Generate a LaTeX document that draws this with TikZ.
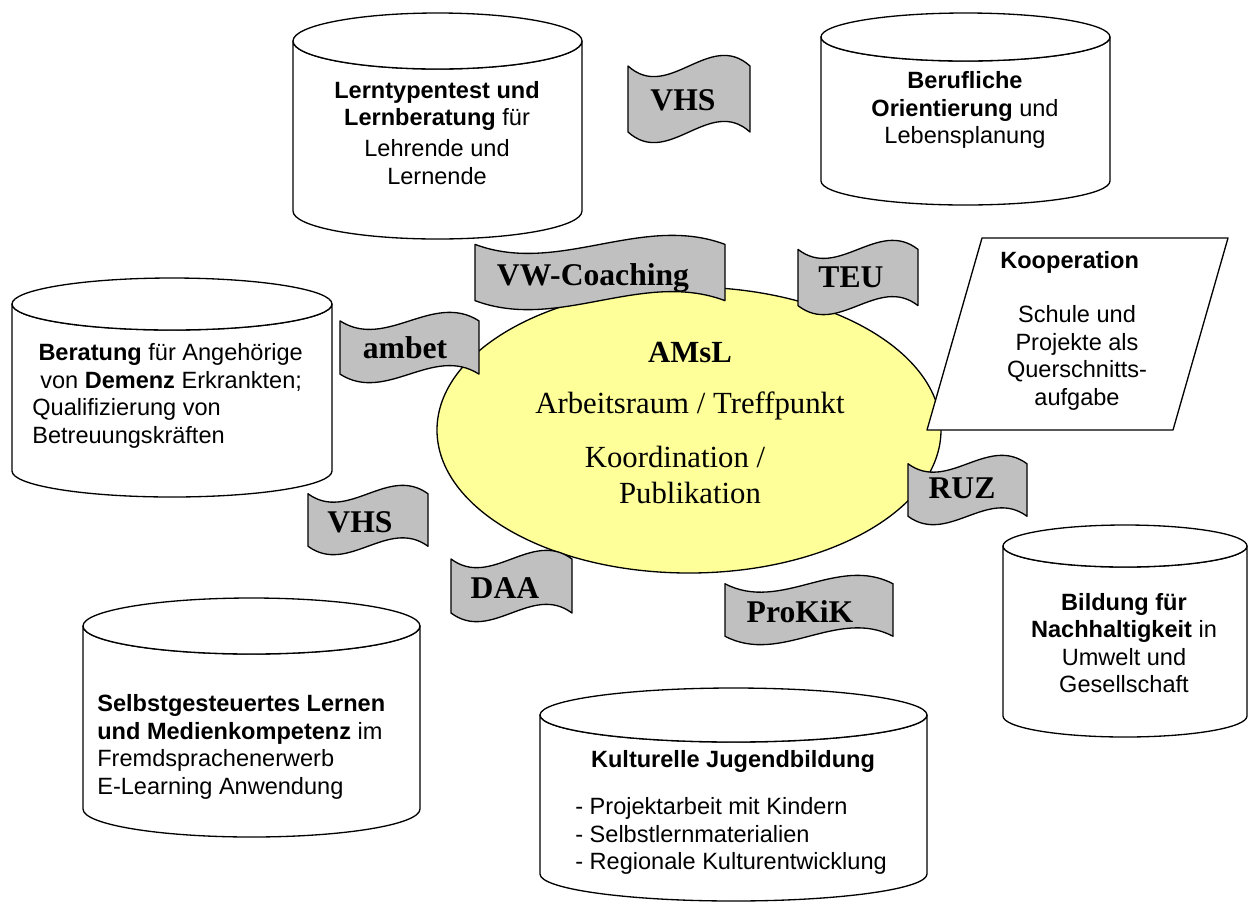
\documentclass[tikz,border=0pt]{standalone}
\usepackage{fontspec}
\setmainfont{Liberation Serif}
\setsansfont{Liberation Sans}
\usepackage{xcolor}
\usepackage{tikz}

\definecolor{flaggrey}{RGB}{192,192,192}
\definecolor{hubyellow}{RGB}{255,255,153}

% can: x left, x right, y of rim, y of base, half height of the ellipses
\newcommand{\cancyl}[5]{%
  \draw[canline] (#1,#3) -- (#1,#4)
    arc[start angle=180, end angle=0, x radius={(#2-#1)/2}, y radius=#5]
    -- (#2,#3)
    arc[start angle=0, end angle=180, x radius={(#2-#1)/2}, y radius=#5] -- cycle;
  \draw[canline] ({(#1+#2)/2},#3) ellipse[x radius={(#2-#1)/2}, y radius=#5];
}

% wave flag: x left, y top, x right, y bottom
\newcommand{\wavebox}[4]{%
  \pgfmathsetmacro{\wva}{0.125*(#4-#2)}
  \pgfmathsetmacro{\wvd}{10/3*\wva}
  \draw[flagbox] (#1,{#2+\wva})
    .. controls ({#1+(#3-#1)/3},{#2+\wva+\wvd}) and ({#1+2*(#3-#1)/3},{#2+\wva-\wvd}) .. (#3,{#2+\wva})
    -- (#3,{#4-\wva})
    .. controls ({#1+2*(#3-#1)/3},{#4-\wva-\wvd}) and ({#1+(#3-#1)/3},{#4-\wva+\wvd}) .. (#1,{#4-\wva})
    -- cycle;
}

\begin{document}
\begin{tikzpicture}[x=0.02cm, y=-0.02cm, line join=round]
    \tikzset{
      canline/.style={draw=black, line width=0.75pt, fill=white},
      flagbox/.style={draw=black, line width=0.75pt, fill=flaggrey},
      hub/.style={draw=black, line width=0.75pt, fill=hubyellow},
      cantext/.style={font=\sffamily\fontsize{13.4}{15.6}\selectfont, align=center, inner sep=0pt},
      flagtext/.style={font=\rmfamily\bfseries\fontsize{18}{20}\selectfont, inner sep=0pt, anchor=base},
      hubtext/.style={font=\rmfamily\fontsize{17.5}{20}\selectfont, inner sep=0pt, anchor=base}
    }
    \useasboundingbox (0,0) rectangle (1252,904);

    % --- CANS ---
    \cancyl{293}{582}{41}{211}{28}    % Lerntypentest
    \cancyl{821}{1110}{37}{181}{24}   % Berufliche Orientierung
    \cancyl{12}{332}{304}{471}{26}    % Beratung
    \cancyl{83}{420}{626}{809}{28}    % Selbstgesteuertes Lernen
    \cancyl{540}{927}{715}{874}{27}   % Kulturelle Jugendbildung
    \cancyl{1003}{1247}{546}{716}{21} % Nachhaltigkeit

    % --- HUB ---
    \draw[hub] (689,430) ellipse[x radius=252, y radius=143];
    \node[hubtext, font=\rmfamily\bfseries\fontsize{17.5}{20}\selectfont] (amsl) at (690,362) {AMsL};
    \node[hubtext] (raum) at (690,413) {Arbeitsraum / Treffpunkt};
    \node[hubtext] (koord) at (675,467) {Koordination /};
    \node[hubtext] (publ) at (690,503) {Publikation};

    % --- FLAGS ---
    \wavebox{628}{55}{750}{143}
    \node[flagtext] (vhsA) at (683,110) {VHS};
    \wavebox{475}{235}{725}{310}
    \node[flagtext] (vwc) at (593,285) {VW-Coaching};
    \wavebox{798}{240}{918}{315}
    \node[flagtext] (teu) at (851,287) {TEU};
    \wavebox{340}{312}{479}{383}
    \node[flagtext] (ambet) at (405,358) {ambet};
    \wavebox{908}{455}{1027}{525}
    \node[flagtext] (ruz) at (962,498) {RUZ};
    \wavebox{308}{485}{428}{555}
    \node[flagtext] (vhsB) at (360,532) {VHS};
    \wavebox{451}{550}{572}{622}
    \node[flagtext] (daa) at (505,598) {DAA};
    \wavebox{725}{575}{893}{645}
    \node[flagtext] (prokik) at (800,622) {ProKiK};

    % --- KOOPERATION ---
    \coordinate (koopNW) at (982,238);
    \coordinate (koopNE) at (1228,238);
    \coordinate (koopSE) at (1173,430);
    \coordinate (koopSW) at (927,430);
    \draw[canline] (koopNW) -- (koopNE) -- (koopSE) -- (koopSW) -- cycle;
    \node[cantext, anchor=west] (koop) at (1000,262) {\textbf{Kooperation}};
    \node[cantext] (schule) at (1077,358) {Schule und\\Projekte als\\Querschnitts-\\aufgabe};

    % --- CAN TEXTS ---
    \node[cantext] (lerntyp) at (437,133)
      {\textbf{Lerntypentest und}\\\textbf{Lernberatung} für\\[2pt]Lehrende und\\Lernende};
    \node[cantext] (beruf) at (965,110)
      {\textbf{Berufliche}\\\textbf{Orientierung} und\\Lebensplanung};
    \node[cantext, align=left, anchor=west] (demenz) at (32,396)
      {\hspace*{3.5pt}\textbf{Beratung} für Angehörige\\\hspace*{4.5pt}von \textbf{Demenz} Erkrankten;\\Qualifizierung von\\Betreuungskräften};
    \node[cantext, align=left, anchor=west] (selbst) at (97,747)
      {\textbf{Selbstgesteuertes Lernen}\\\textbf{und Medienkompetenz} im\\Fremdsprachenerwerb\\E-Learning Anwendung};
    \node[cantext] (kultur) at (733,761) {\textbf{Kulturelle Jugendbildung}};
    \node[cantext, align=left, anchor=west] (kulturlist) at (575,836)
      {- Projektarbeit mit Kindern\\- Selbstlernmaterialien\\- Regionale Kulturentwicklung};
    \node[cantext] (nachhalt) at (1124,643)
      {\textbf{Bildung für}\\\textbf{Nachhaltigkeit} in\\Umwelt und\\Gesellschaft};

\end{tikzpicture}
\end{document}
